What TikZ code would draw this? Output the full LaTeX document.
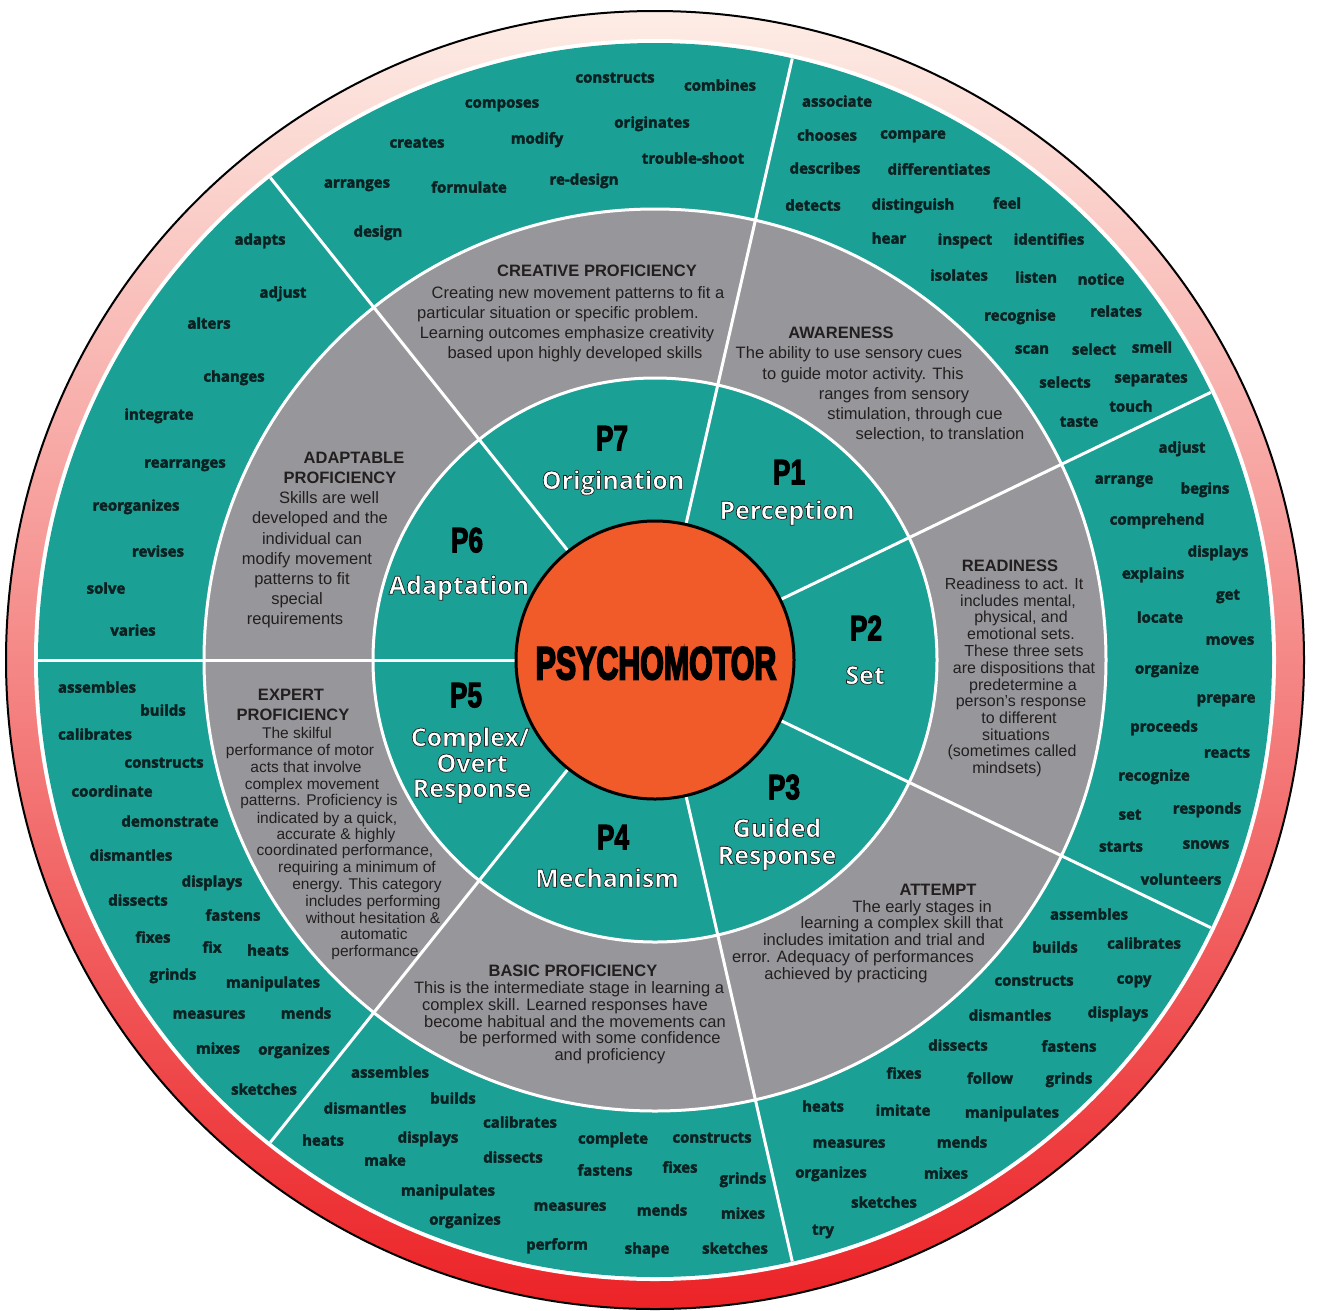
\documentclass[tikz,border=0pt]{standalone}
\usepackage{fontspec}
\usepackage{graphicx}
\setmainfont{Liberation Sans}
\newfontfamily\wordfont{Open Sans}

\definecolor{ringTeal}{HTML}{1AA095}
\definecolor{ringGrey}{HTML}{97969A}
\definecolor{coreOrange}{HTML}{F15A29}
\definecolor{bandLight}{HTML}{FDEDE6}
\definecolor{bandSalmon}{HTML}{F59A7E}
\definecolor{bandRed}{HTML}{EC2327}
\definecolor{wordInk}{HTML}{0C2222}
\definecolor{bodyInk}{HTML}{231F20}

\tikzset{
  word/.style={font=\wordfont\bfseries\fontsize{15}{15}\selectfont, text=wordInk, inner sep=0pt, anchor=mid, yshift=-3pt},
  body/.style={font=\fontsize{16.5}{17}\selectfont, text=bodyInk, inner sep=0pt, anchor=mid, yshift=-3.5pt},
  head/.style={body, font=\bfseries\fontsize{16.5}{17}\selectfont, yshift=-0.5pt},
  small body/.style={body, font=\fontsize{15.5}{16}\selectfont},
  pnum/.style={font=\bfseries\fontsize{35}{35}\selectfont, text=black, inner sep=0pt, anchor=mid, yshift=-9.5pt},
  pname/.style={font=\wordfont\bfseries\fontsize{25}{25}\selectfont, text=white, inner sep=0pt, anchor=mid, yshift=-6.5pt},
  coretext/.style={font=\bfseries\fontsize{46}{46}\selectfont, text=black, inner sep=0pt, anchor=mid, yshift=-13.5pt},
}

% text filled and stroked in one pass: #1 stroke colour (r g b), #2 stroke width, #3 text
\newcommand{\inked}[3]{\special{pdf:literal direct #1 RG #2 w 2 Tr}#3\special{pdf:literal direct 0 Tr}}
\newcommand{\pnumtext}[1]{\inked{0 0 0}{1.2}{\scalebox{0.75}[1]{#1}}}
\newcommand{\pnametext}[1]{\inked{0.12 0.12 0.12}{0.7}{#1}}
\newcommand{\wordtext}[1]{\inked{0.05 0.13 0.13}{0.4}{#1}}

\begin{document}
\begin{tikzpicture}[x=1pt, y=-1pt]
    \useasboundingbox (0,0) rectangle (1317,1310);
    \coordinate (c) at (655,660);

    % rings
    \shade[top color=bandLight, middle color=bandSalmon, bottom color=bandRed] (c) circle (649pt);
    \draw[black, line width=2pt] (c) circle (649pt);
    \fill[white] (c) circle (621pt);
    \fill[ringTeal] (c) circle (617pt);
    \filldraw[fill=ringGrey, draw=white, line width=3pt] (c) circle (451pt);
    \filldraw[fill=ringTeal, draw=white, line width=3pt] (c) circle (282pt);
    \foreach \a in {0,...,6}
        \draw[white, line width=3pt] ([shift={(180+\a*51.4286:139pt)}]c) -- ([shift={(180+\a*51.4286:617pt)}]c);
    \filldraw[fill=coreOrange, draw=black, line width=3pt] (c) circle (139pt);

    % outer words
    \foreach \x/\y/\lbl [count=\k] in {615/77/constructs, 720/85/combines, 502/102/composes, 652/122/originates, 417/142/creates, 537/138/modify, 693/158/trouble-shoot, 357/182/arranges, 469/187/formulate, 584/179/re-design, 378/231/design}
        \node[word] (create\k) at (\x,\y) {\wordtext{\lbl}};
    \foreach \x/\y/\lbl [count=\k] in {837/101/associate, 827/135/chooses, 913/133/compare, 825/168/describes, 939/169/differentiates, 813/205/detects, 913/204/distinguish, 1007/203/feel, 889/238/hear, 965/239/inspect, 1049/239/identifies, 959/275/isolates, 1036/277/listen, 1101/279/notice, 1020/315/recognise, 1116/311/relates, 1032/348/scan, 1094/349/select, 1152/347/smell, 1065/382/selects, 1151/377/separates, 1131/406/touch, 1079/421/taste}
        \node[word] (aware\k) at (\x,\y) {\wordtext{\lbl}};
    \foreach \x/\y/\lbl [count=\k] in {1182/447/adjust, 1124/478/arrange, 1205/488/begins, 1157/519/comprehend, 1218/551/displays, 1153/573/explains, 1228/594/get, 1160/617/locate, 1230/639/moves, 1167/668/organize, 1226/697/prepare, 1164/726/proceeds, 1227/752/reacts, 1154/775/recognize, 1130/814/set, 1207/808/responds, 1121/846/starts, 1206/843/snows, 1181/879/volunteers}
        \node[word] (ready\k) at (\x,\y) {\wordtext{\lbl}};
    \foreach \x/\y/\lbl [count=\k] in {1089/914/assembles, 1055/947/builds, 1144/943/calibrates, 1034/980/constructs, 1134/978/copy, 1010/1015/dismantles, 1118/1012/displays, 958/1045/dissects, 1069/1046/fastens, 904/1073/fixes, 990/1078/follow, 1069/1078/grinds, 823/1106/heats, 903/1110/imitate, 1012/1112/manipulates, 849/1142/measures, 962/1142/mends, 831/1172/organizes, 946/1173/mixes, 884/1202/sketches, 823/1229/try}
        \node[word] (attempt\k) at (\x,\y) {\wordtext{\lbl}};
    \foreach \x/\y/\lbl [count=\k] in {390/1072/assembles, 453/1098/builds, 365/1108/dismantles, 520/1122/calibrates, 323/1140/heats, 428/1137/displays, 613/1138/complete, 712/1137/constructs, 385/1160/make, 513/1157/dissects, 605/1170/fastens, 680/1167/fixes, 743/1178/grinds, 448/1190/manipulates, 570/1205/measures, 662/1210/mends, 743/1213/mixes, 465/1219/organizes, 557/1244/perform, 647/1248/shape, 735/1248/sketches}
        \node[word] (basic\k) at (\x,\y) {\wordtext{\lbl}};
    \foreach \x/\y/\lbl [count=\k] in {97/687/assembles, 163/710/builds, 95/734/calibrates, 164/762/constructs, 112/791/coordinate, 170/821/demonstrate, 131/855/dismantles, 212/881/displays, 138/900/dissects, 233/915/fastens, 153/937/fixes, 212/947/fix, 268/950/heats, 173/974/grinds, 273/982/manipulates, 209/1013/measures, 306/1013/mends, 218/1048/mixes, 294/1049/organizes, 264/1089/sketches}
        \node[word] (expert\k) at (\x,\y) {\wordtext{\lbl}};
    \foreach \x/\y/\lbl [count=\k] in {260/239/adapts, 283/292/adjust, 209/323/alters, 234/376/changes, 159/414/integrate, 185/462/rearranges, 136/505/reorganizes, 158/551/revises, 106/588/solve, 133/630/varies}
        \node[word] (adapt\k) at (\x,\y) {\wordtext{\lbl}};

    % grey ring texts
    \node[head] (createHead) at (597,270) {CREATIVE PROFICIENCY};
    \foreach \x/\y/\txt [count=\k] in {578/292/{Creating new movement patterns to fit a}, 558/312/{particular situation or specific problem.}, 567/332/{Learning outcomes emphasize creativity}, 575/352/{based upon highly developed skills}}
        \node[body] (createLine\k) at (\x,\y) {\txt};

    \node[head] (awareHead) at (841,332) {AWARENESS};
    \foreach \x/\y/\txt [count=\k] in {849/352/{The ability to use sensory cues}, 863/373/{to guide motor activity. This}, 894/393/{ranges from sensory}, 915/413/{stimulation, through cue}, 940/433/{selection, to translation}}
        \node[body] (awareLine\k) at (\x,\y) {\txt};

    \node[head] (readyHead) at (1010,565) {READINESS};
    \foreach \x/\y/\txt [count=\k] in {1014/583/{Readiness to act. It}, 1018/600/{includes mental,}, 1021/616/{physical, and}, 1021/633/{emotional sets.}, 1024/650/{These three sets}, 1024/667/{are dispositions that}, 1023/684/{predetermine a}, 1021/700/{person's response}, 1019/717/{to different}, 1016/734/{situations}, 1012/750/{(sometimes called}, 1007/767/{mindsets)}}
        \node[body, font=\fontsize{16}{16}\selectfont] (readyLine\k) at (\x,\y) {\txt};

    \node[head] (attemptHead) at (938,889) {ATTEMPT};
    \foreach \x/\y/\txt [count=\k] in {922/906/{The early stages in}, 902/922/{learning a complex skill that}, 874/939/{includes imitation and trial and}, 853/956/{error. Adequacy of performances}, 846/973/{achieved by practicing}}
        \node[body] (attemptLine\k) at (\x,\y) {\txt};

    \node[head] (basicHead) at (573,970) {BASIC PROFICIENCY};
    \foreach \x/\y/\txt [count=\k] in {569/987/{This is the intermediate stage in learning a}, 565/1004/{complex skill. Learned responses have}, 575/1021/{become habitual and the movements can}, 590/1037/{be performed with some confidence}, 610/1054/{and proficiency}}
        \node[body] (basicLine\k) at (\x,\y) {\txt};

    \node[head] (expertHead) at (291,694) {EXPERT};
    \node[head] (expertHeadB) at (293,714) {PROFICIENCY};
    \foreach \x/\y/\txt [count=\k] in {297/732/{The skilful}, 300/749/{performance of motor}, 306/766/{acts that involve}, 312/783/{complex movement}, 319/799/{patterns. Proficiency is}, 327/817/{indicated by a quick,}, 336/833/{accurate \& highly}, 345/849/{coordinated performance,}, 357/866/{requiring a minimum of}, 367/883/{energy. This category}, 373/900/{includes performing}, 373/917/{without hesitation \&}, 374/933/{automatic}, 375/950/{performance}}
        \node[small body] (expertLine\k) at (\x,\y) {\txt};

    \node[head] (adaptHead) at (354,457) {ADAPTABLE};
    \node[head] (adaptHeadB) at (340,477) {PROFICIENCY};
    \foreach \x/\y/\txt [count=\k] in {329/497/{Skills are well}, 320/517/{developed and the}, 312/538/{individual can}, 307/558/{modify movement}, 302/578/{patterns to fit}, 297/598/{special}, 295/618/{requirements}}
        \node[body] (adaptLine\k) at (\x,\y) {\txt};

    % level labels
    \node[pnum] (p7) at (612,438) {\pnumtext{P7}};
    \node[pname] (p7name) at (613,480) {\pnametext{Origination}};
    \node[pnum] (p1) at (789,472) {\pnumtext{P1}};
    \node[pname] (p1name) at (787,510) {\pnametext{Perception}};
    \node[pnum] (p2) at (866,628) {\pnumtext{P2}};
    \node[pname] (p2name) at (865,675) {\pnametext{Set}};
    \node[pnum] (p3) at (784,787) {\pnumtext{P3}};
    \node[pname] (p3name) at (777,828) {\pnametext{Guided}};
    \node[pname] (p3nameB) at (777,855) {\pnametext{Response}};
    \node[pnum] (p4) at (613,837) {\pnumtext{P4}};
    \node[pname] (p4name) at (607,878) {\pnametext{Mechanism}};
    \node[pnum] (p5) at (466,695) {\pnumtext{P5}};
    \node[pname] (p5name) at (470,737) {\pnametext{Complex/}};
    \node[pname] (p5nameB) at (472,763) {\pnametext{Overt}};
    \node[pname] (p5nameC) at (472,788) {\pnametext{Response}};
    \node[pnum] (p6) at (467,540) {\pnumtext{P6}};
    \node[pname] (p6name) at (459,585) {\pnametext{Adaptation}};

    \node[coretext] (core) at (656,663) {\inked{0 0 0}{2.2}{\scalebox{0.66}[1]{PSYCHOMOTOR}}};
\end{tikzpicture}
\end{document}
